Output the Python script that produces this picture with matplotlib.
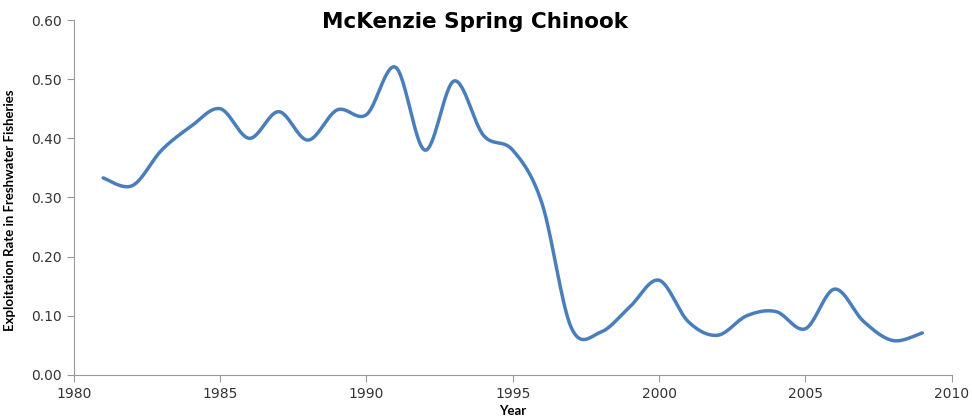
import matplotlib
matplotlib.use("Agg")
import matplotlib.pyplot as plt
import numpy as np

years = [1981, 1982, 1983, 1984, 1985, 1986, 1987, 1988, 1989, 1990,
         1991, 1992, 1993, 1994, 1995, 1996, 1997, 1998, 1999, 2000,
         2001, 2002, 2003, 2004, 2005, 2006, 2007, 2008, 2009]
rates = [0.333, 0.320, 0.380, 0.420, 0.450, 0.400, 0.445, 0.397, 0.448, 0.440,
         0.520, 0.380, 0.497, 0.405, 0.380, 0.290, 0.080, 0.072, 0.115, 0.160,
         0.090, 0.067, 0.100, 0.107, 0.078, 0.145, 0.090, 0.058, 0.071]
x_ticks = [1980, 1985, 1990, 1995, 2000, 2005, 2010]
y_ticks = [0.0, 0.1, 0.2, 0.3, 0.4, 0.5, 0.6]


def smooth(x, y, n=30):
    # Excel-style smoothed line: cubic Bezier with Catmull-Rom control points
    x = np.asarray(x, float)
    y = np.asarray(y, float)
    px = np.concatenate([[x[0]], x, [x[-1]]])
    py = np.concatenate([[y[0]], y, [y[-1]]])
    t = np.linspace(0, 1, n)
    xs, ys = [], []
    for i in range(1, len(px) - 2):
        p0 = np.array([px[i], py[i]])
        p3 = np.array([px[i + 1], py[i + 1]])
        c1 = p0 + (np.array([px[i + 1], py[i + 1]]) - np.array([px[i - 1], py[i - 1]])) / 6
        c2 = p3 - (np.array([px[i + 2], py[i + 2]]) - np.array([px[i], py[i]])) / 6
        b = ((1 - t) ** 3)[:, None] * p0 + (3 * (1 - t) ** 2 * t)[:, None] * c1 \
            + (3 * (1 - t) * t ** 2)[:, None] * c2 + (t ** 3)[:, None] * p3
        xs.extend(b[:, 0])
        ys.extend(b[:, 1])
    return xs, ys


fig = plt.figure(figsize=(9.72, 4.17), dpi=100)
ax = fig.add_axes([0.076, 0.101, 0.903, 0.851])

sx, sy = smooth(years, rates)
ax.plot(sx, sy, color="#4A7EBB", linewidth=2.5, solid_capstyle="round")

ax.set_xlim(1980, 2010)
ax.set_ylim(0, 0.6)
ax.set_xticks(x_ticks)
ax.set_yticks(y_ticks)
ax.set_yticklabels([f"{v:.2f}" for v in y_ticks])

for side in ["top", "right"]:
    ax.spines[side].set_visible(False)
for side in ["left", "bottom"]:
    ax.spines[side].set_color("#999999")
ax.tick_params(direction="out", length=5, color="#999999", labelsize=10,
               labelcolor="#333333")

ax.set_xlabel("Year", fontsize=9.5, fontweight="bold", labelpad=3,
              family=["Lato", "DejaVu Sans"])
ax.set_ylabel("Exploitation Rate in Freshwater Fisheries", fontsize=9.5,
              fontweight="bold", family=["Lato", "DejaVu Sans"])
ax.yaxis.set_label_coords(-0.066, 0.465)

fig.text(0.489, 0.948, "McKenzie Spring Chinook", ha="center", va="center",
         fontsize=15.5, fontweight="bold", family=["DejaVu Sans"])

fig.savefig("out.png", dpi=100)
